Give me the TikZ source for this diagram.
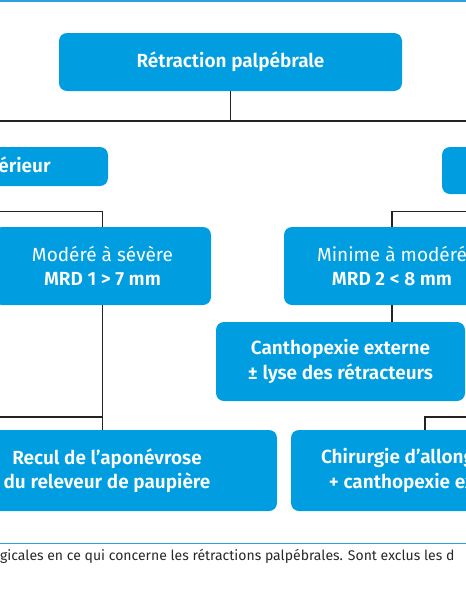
\documentclass[tikz,border=0pt]{standalone}
\usepackage{fontspec}
\setmainfont{Fira Sans}[BoldFont={* SemiBold}]
\definecolor{boxblue}{RGB}{0,158,224}
\definecolor{rulecol}{RGB}{45,160,222}
\definecolor{linkgray}{RGB}{35,35,35}
\definecolor{captgray}{RGB}{40,40,40}

\begin{document}
\begin{tikzpicture}[x=1pt, y=-1pt,
  every node/.style={font=\fontsize{19}{24.5}\selectfont},
  box/.style={rectangle, rounded corners=8pt, fill=boxblue, text=white, align=center, inner sep=0pt},
  link/.style={draw=linkgray, line width=1.3pt}]

\useasboundingbox (0,0) rectangle (466,600);
\clip (0,0) rectangle (466,600);

% Top and bottom rules
\fill[rulecol] (0,0) rectangle (466,2);
\fill[rulecol] (0,542.5) rectangle (466,544);

% Root
\node[box, minimum width=343pt, minimum height=58pt] (ret) at (230.5,62) {\bfseries Rétraction palpébrale};

% Second level
\node[box, minimum width=200pt, minimum height=39pt] (sup) at (8,166.5) {\bfseries Supérieur};
\node[box, minimum width=178pt, minimum height=47pt] (inf) at (531,170.5) {};

% Grades
\node[box, minimum width=217pt, minimum height=78pt] (modsev) at (102.5,266) {Modéré à sévère\\\bfseries MRD 1 > 7 mm};
\node[box, minimum width=216pt, minimum height=78pt] (minmod) at (392,266) {Minime à modéré\\\bfseries MRD 2 < 8 mm};

% Treatments
\node[box, minimum width=249pt, minimum height=79pt] (canth) at (340.5,361.5) {\bfseries Canthopexie externe\\\bfseries ± lyse des rétracteurs};
\node[box, minimum width=340pt, minimum height=81pt] (recul) at (107,470.5) {\bfseries Recul de l’aponévrose\\\bfseries du releveur de paupière};
\node[box, minimum width=268pt, minimum height=81pt] (chir) at (425,470.5) {\bfseries Chirurgie d’allongement\\\bfseries + canthopexie externe};

% Caption
\node[anchor=west, inner sep=0pt, text=captgray, font=\fontsize{14}{16}\selectfont] (capt) at (0,556) {gicales en ce qui concerne les rétractions palpébrales. Sont exclus les d};

% Free ends off the page
\coordinate (busL) at (-40,121);
\coordinate (busR) at (520,121);
\coordinate (jL) at (103,417);
\coordinate (offL) at (-40,417);
\coordinate (offR) at (520,417);

% Connections
\draw[link] (ret.south) -- (ret.south |- busL);
\draw[link] (busL) -- (busR);
\draw[link] (modsev.north) -- ++(0,-15) -| ([xshift=-30pt]sup.south);
\draw[link] (minmod.north) -- ++(0,-15) -| ([xshift=40pt]inf.south);
\draw[link] (modsev.south) -- (modsev.south |- recul.north);
\draw[link] (offL) -- (jL);
\draw[link] (minmod.south) -- (minmod.south |- canth.north);
\draw[link] (offR) -| (chir.north);

\end{tikzpicture}
\end{document}
